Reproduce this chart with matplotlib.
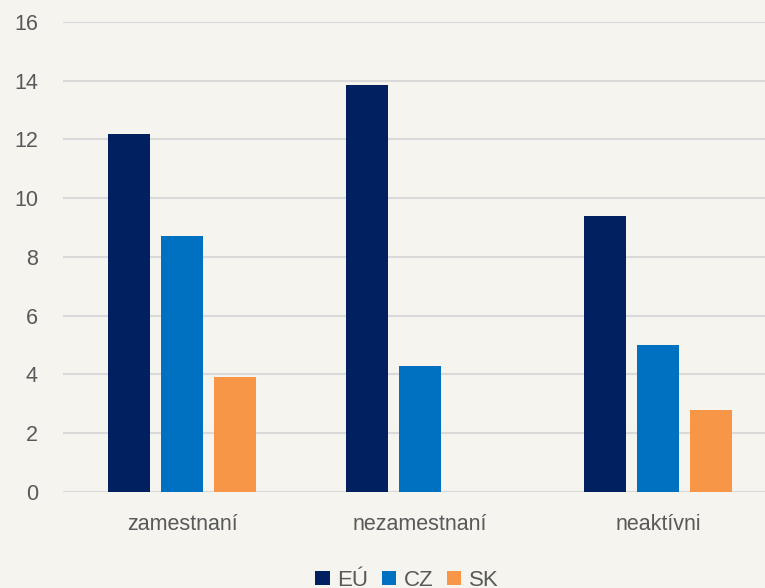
import matplotlib
matplotlib.use('Agg')
import matplotlib.pyplot as plt
from matplotlib import font_manager
from matplotlib.patches import Patch
import numpy as np

# data
categories = ['zamestnaní', 'nezamestnaní', 'neaktívni']
series_names = ['EÚ', 'CZ', 'SK']
eu_values = [12.2, 13.85, 9.4]
cz_values = [8.7, 4.3, 5.0]
sk_values = [3.9, 0, 2.8]
y_ticks = [0, 2, 4, 6, 8, 10, 12, 14, 16]

colors = ['#002060', '#0070C0', '#F79646']
bg = '#F5F4EF'
text_color = '#595959'

# narrow font if available, otherwise normal Liberation Sans
names = {f.name for f in font_manager.fontManager.ttflist}
if 'Liberation Sans Narrow' in names:
    family = ['Liberation Sans Narrow', 'DejaVu Sans']
    fs = 18.5
else:
    family = ['Liberation Sans', 'DejaVu Sans']
    fs = 15.5
plt.rcParams['font.family'] = family

fig = plt.figure(figsize=(7.65, 5.88), dpi=100, facecolor=bg)
ax = fig.add_axes([63 / 765, 0.1633, 714 / 765, 0.7993])
ax.set_facecolor(bg)

x = np.arange(len(categories))
offset = 0.222
width = 0.175
for i, vals in enumerate([eu_values, cz_values, sk_values]):
    ax.bar(x + (i - 1) * offset, vals, width, color=colors[i], zorder=3,
           label=series_names[i])

ax.set_xlim(-0.5, 2.5)
ax.set_ylim(0, 16)
ax.set_yticks(y_ticks)
ax.set_xticks(x)
ax.set_xticklabels(categories)
ax.yaxis.grid(True, color='#D9D9D9', linewidth=1.5, zorder=0)
ax.set_axisbelow(True)
for s in ax.spines.values():
    s.set_visible(False)
ax.tick_params(axis='both', length=0, labelsize=fs, colors=text_color)
ax.tick_params(axis='y', pad=18)
ax.tick_params(axis='x', pad=16)

# legend sits at the very bottom edge, as in the original
handles = [Patch(facecolor=c, edgecolor='none') for c in colors]
fig.legend(handles, series_names, loc='center', bbox_to_anchor=(0.532, 0.013),
           ncol=3, frameon=False, fontsize=fs + 0.5, labelcolor=text_color,
           handlelength=0.65, handleheight=0.65, handletextpad=0.35,
           columnspacing=0.6)

fig.savefig('out.png', dpi=100, facecolor=bg)
